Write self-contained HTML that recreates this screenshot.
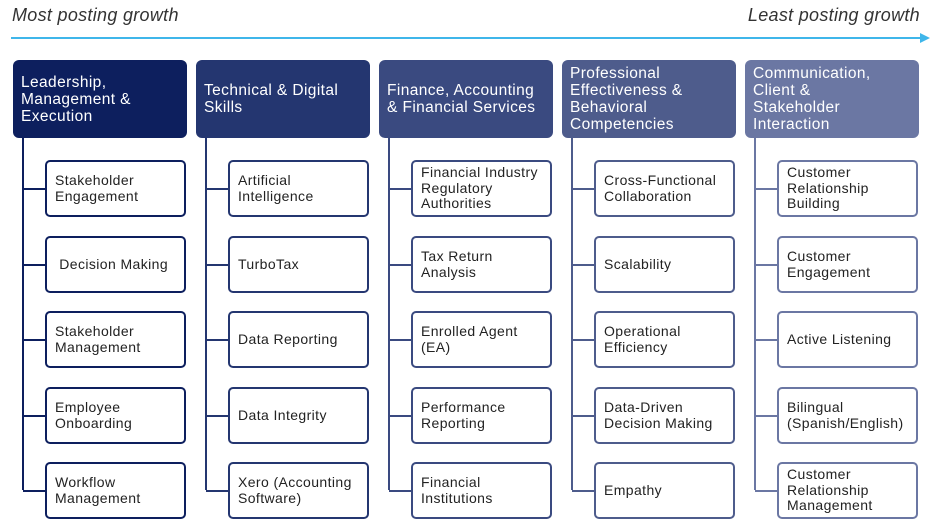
<!DOCTYPE html>
<html><head><meta charset="utf-8"><style>
body{margin:0;width:940px;height:522px;background:#fff;position:relative;overflow:hidden;font-family:"Liberation Sans",sans-serif}
.t{position:absolute;top:5px;font-style:italic;font-size:18px;color:#333;letter-spacing:.3px}
.h{position:absolute;top:60px;width:174px;height:78px;border-radius:6px;color:#fff;font-size:15.5px;line-height:17px;box-sizing:border-box;padding:0 8px;display:flex;align-items:center;letter-spacing:.4px}
.v{position:absolute;top:138px;width:2px;height:352px}
.c{position:absolute;width:141px;height:57px;border:2px solid;border-radius:5px;box-sizing:border-box;background:#fff;font-size:14px;line-height:15.5px;color:#222;display:flex;align-items:center;padding-left:8px;letter-spacing:.4px}
.s{position:absolute;height:2px;width:22px}
</style></head><body>
<div class="t" style="left:12px">Most posting growth</div>
<div class="t" style="right:20px">Least posting growth</div>
<div style="position:absolute;left:11px;top:37px;width:912px;height:2px;background:#3fb6ea"></div>
<div style="position:absolute;left:920px;top:33px;border-left:10px solid #3fb6ea;border-top:5px solid transparent;border-bottom:5px solid transparent"></div>
<div id="g"></div>
<script>
var cols=[["#0d1f5e","Leadership,<br>Management &amp;<br>Execution",["Stakeholder<br>Engagement","&nbsp;Decision Making","Stakeholder<br>Management","Employee<br>Onboarding","Workflow<br>Management"]],
["#243670","Technical &amp; Digital<br>Skills",["Artificial<br>Intelligence","TurboTax","Data Reporting","Data Integrity","Xero (Accounting<br>Software)"]],
["#3a4a80","Finance, Accounting<br>&amp; Financial Services",["Financial Industry<br>Regulatory<br>Authorities","Tax Return<br>Analysis","Enrolled Agent<br>(EA)","Performance<br>Reporting","Financial<br>Institutions"]],
["#4e5c8c","Professional<br>Effectiveness &amp;<br>Behavioral<br>Competencies",["Cross-Functional<br>Collaboration","Scalability","Operational<br>Efficiency","Data-Driven<br>Decision Making","Empathy"]],
["#6b77a3","Communication,<br>Client &amp;<br>Stakeholder<br>Interaction",["Customer<br>Relationship<br>Building","Customer<br>Engagement","Active Listening","Bilingual<br>(Spanish/English)","Customer<br>Relationship<br>Management"]]];
var ys=[160,236,311,387,462],h="";
cols.forEach(function(c,i){var x=13+i*183;
h+='<div class="h" style="left:'+x+'px;background:'+c[0]+'">'+c[1]+'</div>';
h+='<div class="v" style="left:'+(x+9)+'px;background:'+c[0]+'"></div>';
c[2].forEach(function(t,j){h+='<div class="s" style="left:'+(x+10)+'px;top:'+(ys[j]+28)+'px;background:'+c[0]+'"></div>';
h+='<div class="c" style="left:'+(x+32)+'px;top:'+ys[j]+'px;border-color:'+c[0]+'">'+t+'</div>';});});
document.getElementById("g").innerHTML=h;
</script>
</body></html>
